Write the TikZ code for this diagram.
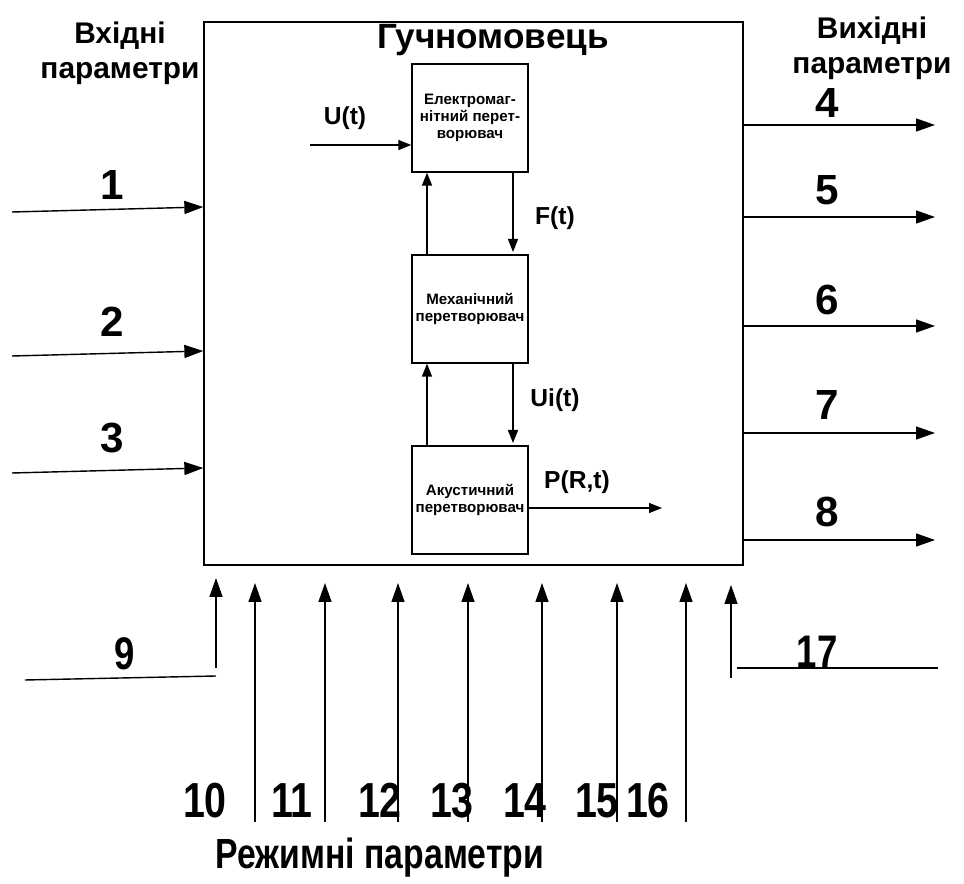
\documentclass[tikz,border=0pt]{standalone}
\usepackage{fontspec}
\setmainfont{Liberation Sans}
\newfontfamily\narrowfont[FakeStretch=0.8]{Liberation Sans}
\usetikzlibrary{arrows.meta,positioning}

\begin{document}
\begin{tikzpicture}[x=0.02cm, y=-0.02cm, line width=0.8pt,
    >={Triangle[length=0.38cm,width=0.26cm]},
    blk/.style={draw, minimum width=2.32cm, minimum height=2.16cm, align=center,
      inner sep=0pt, font=\bfseries\fontsize{8.6}{9.5}\selectfont},
    num/.style={font=\bfseries\fontsize{24}{26}\selectfont},
    lownum/.style={anchor=base, font=\narrowfont\bfseries\fontsize{28}{30}\selectfont},
    sig/.style={font=\bfseries\fontsize{14}{16}\selectfont},
    head/.style={align=center, font=\bfseries\fontsize{17}{20}\selectfont},
    small/.style={-{Triangle[length=0.26cm,width=0.2cm]}}]
    \useasboundingbox (0,0) rectangle (964,884);

    % Speaker block
    \node[draw, minimum width=10.78cm, minimum height=10.86cm] (spk) at (473.5,293.5) {};
    \node[font=\bfseries\fontsize{20}{22}\selectfont] (title) at (493,40) {Гучномовець};

    % Converters
    \node[blk] (em) at (470,118) {Електромаг-\\нітний перет-\\ворювач};
    \node[blk] (mech) at (470,309) {Механічний\\перетворювач};
    \node[blk] (ac) at (470,500) {Акустичний\\перетворювач};

    \coordinate (uin) at (310,145);
    \draw[small] (uin) -- (uin -| em.west);
    \node[sig] (ut) at (345,118) {U(t)};
    \draw[small] (427,0 |- mech.north) -- (427,0 |- em.south);
    \draw[small] (513,0 |- em.south) -- (513,252);
    \node[sig] (ft) at (555,218) {F(t)};
    \draw[small] (427,0 |- ac.north) -- (427,0 |- mech.south);
    \draw[small] (513,0 |- mech.south) -- (513,443);
    \node[sig] (uit) at (555,400) {Ui(t)};
    \coordinate (pout) at (662,508);
    \draw[small] (ac.east |- pout) -- (pout);
    \node[sig] (prt) at (577,482) {P(R,t)};

    % Input parameters
    \node[head] (inhead) at (120,53) {Вхідні\\параметри};
    \foreach \i/\y/\ly in {1/207/185, 2/351/322, 3/468/438} {
      \coordinate (in\i) at (12,\y+5);
      \draw[->] (in\i) -- (spk.west |- 0,\y);
      \node[num] (n\i) at (112,\ly) {\i};
    }

    % Output parameters
    \node[head] (outhead) at (872,48) {Вихідні\\параметри};
    \foreach \i/\y/\ly in {4/125/103, 5/217/190, 6/326/300, 7/433/405, 8/540/512} {
      \coordinate (out\i) at (935,\y);
      \draw[->] (spk.east |- out\i) -- (out\i);
      \node[num] (n\i) at (827,\ly) {\i};
    }

    % Mode parameters
    \coordinate (c9) at (216,676);
    \coordinate (in9) at (25,680);
    \draw (in9) -- (c9);
    \draw[->] (216,668) -- (216,578);
    \node[lownum, font=\narrowfont\bfseries\fontsize{26}{28}\selectfont] (n9) at (125,670) {9};
    \foreach \i/\x/\lx in {10/255/205, 11/325/292, 12/398/380, 13/468/452, 14/542/525, 15/617/597, 16/686/648} {
      \coordinate (m\i) at (\x,822);
      \coordinate (t\i) at (\x,583);
      \draw[->] (m\i) -- (t\i);
      \node[lownum] (n\i) at (\lx,818) {\i};
    }
    \coordinate (c17) at (737,668);
    \coordinate (in17) at (938,668);
    \draw (in17) -- (c17);
    \draw[->] (731,678) -- (731,585);
    \node[lownum, font=\narrowfont\bfseries\fontsize{26}{28}\selectfont] (n17) at (817,668) {17};
    \node[font=\narrowfont\bfseries\fontsize{24}{26}\selectfont] (modehead) at (380,858) {Режимні параметри};
\end{tikzpicture}
\end{document}
